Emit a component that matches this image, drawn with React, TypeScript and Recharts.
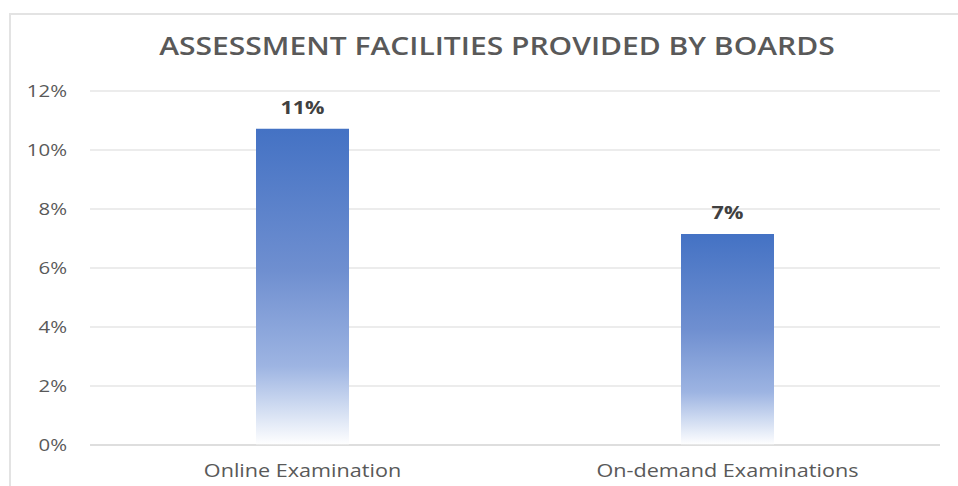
import React from "react";
import { BarChart, Bar, XAxis, YAxis, CartesianGrid, LabelList } from "recharts";

const categories = ["Online Examination", "On-demand Examinations"];
const shares = [0.1072, 0.0715];
const yTicks = [0, 0.02, 0.04, 0.06, 0.08, 0.1, 0.12];
const title = "ASSESSMENT FACILITIES PROVIDED BY BOARDS";

const data = categories.map((name, i) => ({ name, value: shares[i] }));

const FONT = "'Open Sans', 'DejaVu Sans', sans-serif";
const STRETCH = 1.2;
const pct = (v: number) => `${Math.round(v * 100)}%`;

const YTick = (props: any) => {
  const { x, y, payload } = props;
  return (
    <g transform={`translate(${x},${y}) scale(${STRETCH},1)`}>
      <text x={0} y={0} dy="0.36em" textAnchor="end" fill="#595959" style={{ fontFamily: FONT, fontSize: 17 }}>
        {pct(payload.value)}
      </text>
    </g>
  );
};

const XTick = (props: any) => {
  const { x, y, payload } = props;
  return (
    <g transform={`translate(${x},${y}) scale(${STRETCH},1)`}>
      <text x={0} y={0} dy="0.71em" textAnchor="middle" fill="#595959" style={{ fontFamily: FONT, fontSize: 18 }}>
        {payload.value}
      </text>
    </g>
  );
};

const ValueLabel = (props: any) => {
  const { x, y, width, value } = props;
  return (
    <g transform={`translate(${Number(x) + Number(width) / 2},${Number(y) - 15}) scale(${STRETCH},1)`}>
      <text x={0} y={0} textAnchor="middle" fill="#404040" style={{ fontFamily: FONT, fontSize: 18, fontWeight: 700 }}>
        {pct(Number(value))}
      </text>
    </g>
  );
};

export default function App() {
  return (
    <div style={{ position: "absolute", left: 0, top: 0, width: 958, height: 486, background: "#fff", overflow: "hidden", fontFamily: FONT }}>
      <div style={{ position: "absolute", left: 9, top: 13, width: 980, height: 500, border: "2px solid #e3e3e3", boxSizing: "border-box" }} />
      <div style={{ position: "absolute", left: 0, top: 0 }}>
        <BarChart width={958} height={486} data={data} margin={{ top: 91, right: 18, bottom: 0, left: 0 }} barCategoryGap={0}>
          <defs>
            <linearGradient id="barGrad" x1="0" y1="0" x2="0" y2="1">
              <stop offset="0" stopColor="#4472C4" />
              <stop offset="0.45" stopColor="#6f8fd0" />
              <stop offset="0.75" stopColor="#9db4e2" />
              <stop offset="0.88" stopColor="#cfdbf1" />
              <stop offset="1" stopColor="#ffffff" />
            </linearGradient>
          </defs>
          <g transform={`translate(497,55) scale(${STRETCH},1)`}>
            <text x={0} y={0} textAnchor="middle" fill="#595959" style={{ fontFamily: FONT, fontSize: 25, fontWeight: 600 }}>
              {title}
            </text>
          </g>
          <CartesianGrid vertical={false} stroke="#d9d9d9" strokeWidth={1} />
          <XAxis
            dataKey="name"
            height={41}
            tickLine={false}
            tickSize={0}
            tickMargin={19}
            axisLine={{ stroke: "#d0d0d0" }}
            tick={<XTick />}
          />
          <YAxis
            width={90}
            domain={[0, 0.12]}
            ticks={yTicks}
            axisLine={false}
            tickLine={false}
            tickSize={0}
            tickMargin={23}
            tick={<YTick />}
          />
          <Bar dataKey="value" fill="url(#barGrad)" barSize={93} isAnimationActive={false}>
            <LabelList dataKey="value" content={<ValueLabel />} />
          </Bar>
        </BarChart>
      </div>
    </div>
  );
}
